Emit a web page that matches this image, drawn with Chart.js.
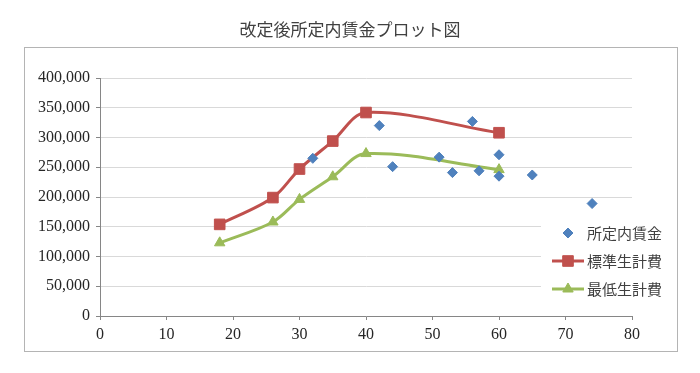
<!DOCTYPE html>
<html>
<head>
<meta charset="utf-8">
<script src="https://cdn.jsdelivr.net/npm/chart.js@4.4.1/dist/chart.umd.min.js"></script>
<style>
  html, body { margin: 0; padding: 0; background: #fff; }
  #wrap { width: 700px; height: 373px; }
</style>
</head>
<body>
<div id="wrap"><canvas id="chart" width="700" height="373"></canvas></div>
<script>
// --- DATA ---
const chartTitle = '改定後所定内賃金プロット図';
const seriesNames = ['所定内賃金', '標準生計費', '最低生計費'];

const wageAges = [32, 42, 44, 51, 53, 56, 57, 60, 60, 65, 74];
const wages = [265000, 320000, 251000, 267000, 241000, 327000, 244000, 271000, 235000, 237000, 189000];

const costAges = [18, 26, 30, 35, 40, 60];
const standardCost = [154000, 199000, 247000, 294000, 342000, 308000];
const minimumCost = [123000, 158000, 196000, 234000, 273000, 246000];

const xTicks = [0, 10, 20, 30, 40, 50, 60, 70, 80];
const yTicks = [0, 50000, 100000, 150000, 200000, 250000, 300000, 350000, 400000];

const colors = { wage: '#4F81BD', standard: '#C0504D', minimum: '#9BBB59' };

const toPoints = (xs, ys) => xs.map((x, i) => ({ x, y: ys[i] }));

// --- PLUGINS ---
// frame + title
const framePlugin = {
    id: 'frame',
    beforeDraw(chart) {
        const ctx = chart.ctx;
        ctx.save();
        ctx.fillStyle = '#fff';
        ctx.fillRect(0, 0, chart.width, chart.height);
        ctx.strokeStyle = '#b4b4b4';
        ctx.lineWidth = 1;
        ctx.strokeRect(24.5, 47.5, 653, 304);
        ctx.fillStyle = '#404040';
        ctx.font = '17px "Noto Sans CJK JP"';
        ctx.textAlign = 'center';
        ctx.textBaseline = 'middle';
        ctx.fillText(chartTitle, 350, 30);
        ctx.restore();
    }
};

// legend sits inside the plot, on a white box over the gridlines
const legendPlugin = {
    id: 'insideLegend',
    beforeDatasetsDraw(chart) {
        const ctx = chart.ctx;
        ctx.save();
        ctx.fillStyle = '#fff';
        ctx.fillRect(541, 214, 135, 90);
        ctx.restore();
    },
    afterDatasetsDraw(chart) {
        const ctx = chart.ctx;
        const rows = [233, 261, 289];
        ctx.save();
        chart.data.datasets.forEach((ds, i) => {
            const y = rows[i];
            if (ds.showLine) {
                ctx.strokeStyle = ds.borderColor;
                ctx.lineWidth = 3;
                ctx.beginPath();
                ctx.moveTo(552, y);
                ctx.lineTo(584, y);
                ctx.stroke();
            }
            ctx.fillStyle = ds.backgroundColor;
            ctx.strokeStyle = ds.backgroundColor;
            ctx.lineWidth = 1;
            Chart.helpers.drawPoint(ctx, { pointStyle: ds.pointStyle, radius: ds.pointRadius, borderWidth: 1 }, 568, y);
            ctx.fillStyle = '#404040';
            ctx.font = '15px "Noto Sans CJK JP"';
            ctx.textAlign = 'left';
            ctx.textBaseline = 'middle';
            ctx.fillText(ds.label, 587, y);
        });
        ctx.restore();
    }
};

// --- CHART ---
const tickFont = { family: '"Liberation Serif", serif', size: 16 };

new Chart(document.getElementById('chart').getContext('2d'), {
    type: 'scatter',
    data: {
        datasets: [
            {
                label: seriesNames[0],
                data: toPoints(wageAges, wages),
                pointStyle: 'rectRot',
                pointRadius: 5,
                backgroundColor: colors.wage,
                borderColor: colors.wage,
                borderWidth: 1,
                showLine: false
            },
            {
                label: seriesNames[1],
                data: toPoints(costAges, standardCost),
                pointStyle: 'rect',
                pointRadius: 7.5,
                backgroundColor: colors.standard,
                borderColor: colors.standard,
                borderWidth: 3,
                pointBorderWidth: 1,
                showLine: true,
                tension: 0.33
            },
            {
                label: seriesNames[2],
                data: toPoints(costAges, minimumCost),
                pointStyle: 'triangle',
                pointRadius: 6,
                backgroundColor: colors.minimum,
                borderColor: colors.minimum,
                borderWidth: 3,
                pointBorderWidth: 1,
                showLine: true,
                tension: 0.33
            }
        ]
    },
    options: {
        responsive: false,
        animation: false,
        devicePixelRatio: 1,
        layout: { padding: { left: 0, right: 68, top: 78, bottom: 0 } },
        plugins: {
            legend: { display: false },
            title: { display: false },
            tooltip: { enabled: false }
        },
        scales: {
            x: {
                type: 'linear',
                min: 0, max: 80,
                afterFit: s => { s.height = 57; },
                afterBuildTicks: s => { s.ticks = xTicks.map(v => ({ value: v })); },
                grid: { drawOnChartArea: false, drawTicks: true, tickLength: 4, tickColor: '#868686' },
                border: { color: '#868686' },
                ticks: { color: '#262626', font: tickFont, padding: 5, maxRotation: 0 }
            },
            y: {
                type: 'linear',
                min: 0, max: 400000,
                afterFit: s => { s.width = 100; },
                afterBuildTicks: s => { s.ticks = yTicks.map(v => ({ value: v })); },
                grid: { color: '#d9d9d9', tickLength: 4, tickColor: '#868686' },
                border: { color: '#868686' },
                ticks: {
                    color: '#262626', font: tickFont, padding: 6,
                    callback: v => v.toLocaleString('en-US')
                }
            }
        }
    },
    plugins: [framePlugin, legendPlugin]
});
</script>
</body>
</html>
